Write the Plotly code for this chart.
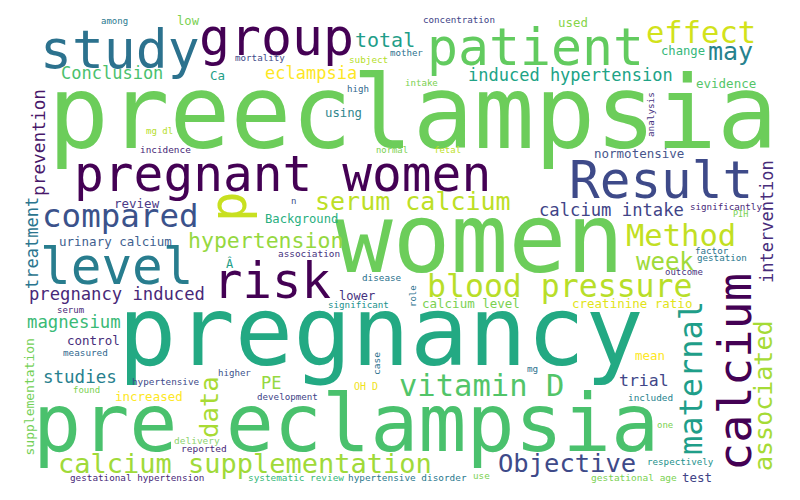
import plotly.graph_objects as go

# ---- data: words and their weights (rendered font size) ----
WORDS = [
    "preeclampsia", "pregnancy", "women", "pre eclampsia", "pregnant women",
    "study", "group", "patient", "Result", "level", "risk", "calcium", "p",
    "compared", "serum calcium", "blood pressure", "Method", "vitamin D",
    "effect", "maternal", "associated", "hypertension", "week", "may", "data",
    "Objective", "calcium supplementation", "total", "Conclusion", "eclampsia",
    "induced hypertension", "prevention", "treatment", "supplementation",
    "intervention", "calcium intake", "pregnancy induced", "magnesium",
    "studies", "trial", "PE",
    "low", "used", "change", "Ca", "evidence", "using", "normotensive",
    "review", "Background", "urinary calcium", "lower", "control", "increased",
    "calcium level", "creatinine ratio", "mean", "test", "OH D", "Â",
    "delivery", "reported",
    "among", "concentration", "mortality", "subject", "mother", "intake",
    "high", "mg dl", "incidence", "normal", "fetal", "analysis", "n",
    "association", "disease", "significant", "serum", "significantly", "PIH",
    "factor", "gestation", "outcome", "role", "measured", "hypertensive",
    "found", "higher", "case", "development", "mg", "included", "one",
    "respectively", "gestational hypertension", "systematic review",
    "hypertensive disorder", "use", "gestational age",
]
WEIGHTS = [
    101, 97, 96, 80, 49.5,
    53, 51.5, 51.5, 51, 51, 49, 47, 51,
    32.5, 25, 31.5, 30.5, 30.5,
    30.5, 32, 25, 21.5, 24, 25, 25.6,
    25.5, 27, 20, 17, 17,
    17, 17.8, 17, 13,
    17, 17.2, 17.2, 17.3,
    17.5, 16.5, 17,
    12.2, 12.4, 12.2, 12.5, 12.5, 12.3, 12.5,
    12.5, 12.2, 12.5, 12, 12.5, 12.5,
    12.5, 12.5, 12.5, 12.5, 10, 12,
    9.5, 9.5,
    9, 9.2, 9.2, 9.3, 9.1, 9.1,
    9.1, 9, 9.4, 8.9, 9, 9.3, 9,
    9.4, 9.3, 9.2, 9, 9.2, 8.5,
    9.2, 9.2, 9, 9, 9.3, 9.3,
    9, 9.1, 9.5, 9.2, 9.3, 9.4, 9,
    9.2, 9.3, 9.4,
    9.4, 9.3, 9.5,
]

# ---- layout of the cloud (centre of each word, in image pixels) ----
POS_X = [
    413, 381, 479, 346, 282,
    120, 276, 535, 661, 117, 272, 734, 228,
    120, 413, 560, 681, 481,
    701, 691, 763, 265, 665, 730, 209,
    567, 245, 385, 112, 311,
    570, 38, 32, 28.5,
    767, 611, 117, 74,
    80, 644, 271,
    188, 573, 683, 217, 726, 343, 639,
    137, 301, 115, 357, 93, 149,
    471, 632, 650, 697, 366, 230,
    197, 204,
    114, 459, 260, 368, 406, 421,
    358, 159, 165, 392, 447, 650, 293,
    309, 382, 358, 70, 726, 740,
    712, 722, 684, 413, 85, 166,
    86, 234, 376, 287, 532, 650, 665,
    680, 137, 296,
    407, 481, 634,
]
POS_Y = [
    113, 331, 239, 423, 174,
    49, 37, 47, 180, 266, 281, 372, 207,
    216, 201, 286, 235, 385,
    32, 378, 396, 240, 262, 51, 407,
    463, 463, 40, 73, 73,
    75, 143, 243, 397,
    222, 210, 294, 322,
    377, 380, 383,
    21, 22, 51, 75, 83, 113, 153,
    203, 219, 241, 296, 340, 396,
    303, 303, 355, 477, 386, 263,
    440, 448,
    21, 19, 57, 59, 53, 83,
    89, 131, 149, 150, 150, 115, 201,
    253, 277, 304, 310, 206, 214,
    250, 257, 272, 296, 352, 381,
    390, 373, 364, 396, 368, 397, 425,
    461, 477, 477,
    477, 475, 477,
]
ANGLE = [0] * len(WORDS)
for w in ["calcium", "p", "maternal", "associated", "data", "prevention",
          "treatment", "supplementation", "intervention", "analysis",
          "role", "case"]:
    ANGLE[WORDS.index(w)] = -90

COLOR = [
    "#6ccd5a", "#23a983", "#6ccd5a", "#4ac16d", "#440154",
    "#2c728e", "#440154", "#62cb5f", "#3e4a89", "#287d8e", "#440154", "#440154", "#c8e020",
    "#3b528b", "#bddf26", "#b8de29", "#c2df23", "#52c569",
    "#d2e21b", "#1f9e89", "#a5db36", "#95d840", "#a0da39", "#26828e", "#a8db34",
    "#3e4a89", "#a0da39", "#1f9e89", "#4ac16d", "#fde725",
    "#20a386", "#48186a", "#2b758e", "#73d056",
    "#472d7b", "#414487", "#482878", "#3aba76",
    "#277f8e", "#404688", "#95d840",
    "#7ad151", "#86d549", "#35b779", "#1fa088", "#54c568", "#31868d", "#48568c",
    "#4b3a87", "#29af7f", "#3f5f8f", "#46327e", "#472d7b", "#fde725",
    "#7ad151", "#e2e418", "#fde725", "#414487", "#f0e21b", "#1fa088",
    "#8ed36f", "#482878",
    "#2a788e", "#414487", "#3e4a89", "#b5de2b", "#2c728e", "#7ad151",
    "#31688e", "#b5de2b", "#482878", "#7ad151", "#bddf26", "#46327e", "#3b528b",
    "#46327e", "#2c728e", "#21918c", "#482878", "#482878", "#7ad151",
    "#2c728e", "#2a788e", "#46327e", "#2c728e", "#31688e", "#3e4a89",
    "#7ad151", "#3b528b", "#2c728e", "#414487", "#2c728e", "#26828e", "#7ad151",
    "#21918c", "#482878", "#35b779",
    "#2a788e", "#7ad151", "#7ad151",
]

FONT = "DejaVu Sans Mono"

fig = go.Figure()
fig.add_trace(go.Scatter(x=[], y=[], mode="markers", hoverinfo="skip", showlegend=False))

annotations = []
for word, size, x, y, ang, col in zip(WORDS, WEIGHTS, POS_X, POS_Y, ANGLE, COLOR):
    annotations.append(dict(
        x=x, y=y, xref="x", yref="y", text=word, showarrow=False,
        textangle=ang, xanchor="center", yanchor="middle",
        font=dict(family=FONT, size=size, color=col), borderpad=0,
    ))

fig.update_layout(
    width=800, height=500,
    margin=dict(l=0, r=0, t=0, b=0),
    paper_bgcolor="white", plot_bgcolor="white",
    xaxis=dict(range=[0, 800], visible=False, fixedrange=True),
    yaxis=dict(range=[500, 0], visible=False, fixedrange=True),
    annotations=annotations,
    showlegend=False,
)

fig.write_html(
    "out.html",
    config={"displayModeBar": False, "staticPlot": True},
    post_script="document.body.style.margin='0';document.body.style.overflow='hidden';",
)
